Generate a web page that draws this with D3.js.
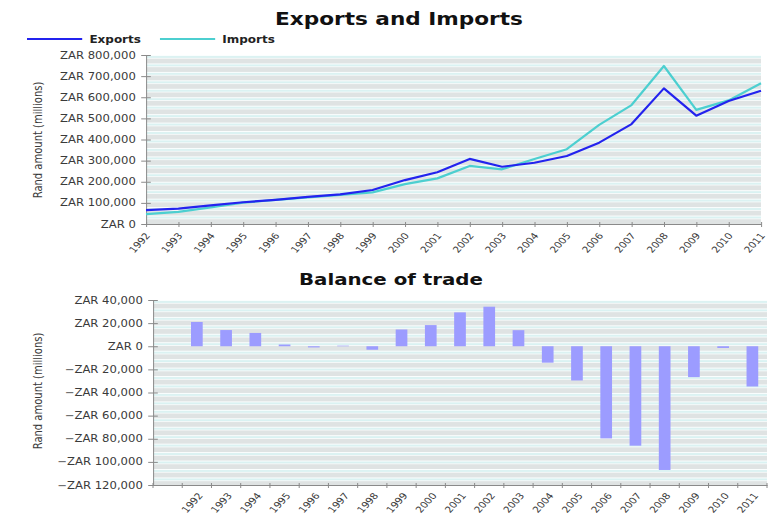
<!DOCTYPE html>
<html>
<head>
<meta charset="utf-8">
<script src="https://cdn.jsdelivr.net/npm/d3@7"></script>
<style>
    body { margin: 0; background: #fff; }
    text { font-family: "DejaVu Sans", Verdana, sans-serif; fill: #3a3a3a; }
    .title { font-weight: bold; fill: #111; }
    .axis path, .axis line { stroke: #8a8a8a; vector-effect: non-scaling-stroke; }
    .axis text { font-size: 9.7px; }
    .years text { font-size: 8.8px; }
    .legend text { font-weight: bold; font-size: 10px; fill: #222; }
</style>
</head>
<body>
<svg id="chart"></svg>
<script>
// Data, in ZAR millions
const years = ["1992", "1993", "1994", "1995", "1996", "1997", "1998", "1999", "2000", "2001",
    "2002", "2003", "2004", "2005", "2006", "2007", "2008", "2009", "2010", "2011"];
const exportsZar = [66000, 73000, 88000, 103000, 114000, 128000, 140000, 161000, 208000, 245000,
    308000, 271000, 290000, 322000, 385000, 473000, 642000, 513000, 582000, 631000];
const importsZar = [47000, 57000, 79000, 101000, 114000, 126000, 138000, 150000, 189000, 216000,
    275000, 259000, 308000, 354000, 469000, 563000, 748000, 540000, 585000, 666000];
const balanceZar = [21000, 14000, 11500, 1500, -1000, 500, -3000, 14500, 18300, 29300,
    34200, 13900, -14200, -29600, -79700, -86000, -107000, -26700, -1500, -34800];
// the bar chart has an empty slot before 1992
const balanceSlots = [""].concat(years);
const tradeTicks = [0, 100000, 200000, 300000, 400000, 500000, 600000, 700000, 800000];
const balanceTicks = [40000, 20000, 0, -20000, -40000, -60000, -80000, -100000, -120000];
const seriesNames = ["Exports", "Imports"];

let scales = {};
let config = {
    'svg': {},
    'top': {},
    'bottom': {},
    'colors': {}
};
let svg;
let root;

function translate(x, y) {
    return 'translate(' + x + ',' + y + ')';
}

// "ZAR 20,000" / "−ZAR 20,000"
function zarFormat(d) {
    let s = "ZAR " + d3.format(",")(Math.abs(d));
    return d < 0 ? "\u2212" + s : s;
}

// striped plot background (horizontal bands)
function addStripes(defs, id, y0) {
    let p = defs.append("pattern")
        .attr("id", id)
        .attr("patternUnits", "userSpaceOnUse")
        .attr("x", 0)
        .attr("y", y0)
        .attr("width", 10)
        .attr("height", 8.45);
    p.append("rect").attr("width", 10).attr("height", 8.45).attr("fill", "#fbfefe");
    p.append("rect").attr("y", 1.3).attr("width", 10).attr("height", 1.2).attr("fill", "#c9ecec");
    p.append("rect").attr("y", 3.6).attr("width", 10).attr("height", 4.85).attr("fill", "#dfe3e3");
}

let drawChart = function() {
    config.svg.width = 770;
    config.svg.height = 514;
    // the whole picture is stretched sideways
    config.stretch = 1.2;

    config.top = {left: 146 / 1.2, right: 761 / 1.2, top: 55, bottom: 224};
    config.bottom = {left: 153 / 1.2, right: 767 / 1.2, top: 300, bottom: 485};

    config.colors.Exports = "#2323ee";
    config.colors.Imports = "#4ccfd0";
    config.colors.bar = "#9c9cff";

    svg = d3.select("#chart")
        .attr("width", config.svg.width)
        .attr("height", config.svg.height);
    let defs = svg.append("defs");
    addStripes(defs, "stripesTop", config.top.top);
    addStripes(defs, "stripesBottom", config.bottom.top);

    root = svg.append("g").attr("transform", "scale(" + config.stretch + ",1)");

    drawTop();
    drawBottom();
};

let drawTop = function() {
    let c = config.top;

    scales.years = d3.scalePoint()
        .domain(years)
        .range([c.left, c.right]);
    scales.trade = d3.scaleLinear()
        .domain([0, 800000])
        .range([c.bottom, c.top]);

    root.append("text")
        .attr("class", "title")
        .attr("x", 332.5)
        .attr("y", 25)
        .attr("text-anchor", "middle")
        .style("font-size", "18px")
        .text("Exports and Imports");

    // legend
    let legend = root.append("g").attr("class", "legend");
    let legendX = [22.5, 133.3];
    seriesNames.forEach(function(name, i) {
        legend.append("line")
            .attr("x1", legendX[i])
            .attr("x2", legendX[i] + 46)
            .attr("y1", 39)
            .attr("y2", 39)
            .attr("stroke", config.colors[name])
            .attr("stroke-width", 2.2);
        legend.append("text")
            .attr("x", legendX[i] + 52)
            .attr("y", 42.6)
            .text(name);
    });

    root.append("rect")
        .attr("x", c.left)
        .attr("y", c.top)
        .attr("width", c.right - c.left)
        .attr("height", c.bottom - c.top)
        .attr("fill", "url(#stripesTop)");

    let yAxis = d3.axisLeft(scales.trade)
        .tickValues(tradeTicks)
        .tickFormat(zarFormat)
        .tickSizeOuter(0)
        .tickSizeInner(4)
        .tickPadding(4.5);
    let yg = root.append("g")
        .attr("class", "axis")
        .attr("transform", translate(c.left, 0))
        .call(yAxis);
    yg.selectAll(".tick line").attr("x1", 4);

    let xAxis = d3.axisBottom(scales.years)
        .tickSizeOuter(0)
        .tickSizeInner(3);
    let xg = root.append("g")
        .attr("class", "axis years")
        .attr("transform", translate(0, c.bottom))
        .call(xAxis);
    xg.selectAll(".tick line").attr("y1", -2);
    xg.selectAll(".tick text")
        .attr("x", 0)
        .attr("y", 0)
        .attr("dy", "0.35em")
        .attr("text-anchor", "end")
        .attr("transform", "translate(1,10) rotate(-52)");

    let series = [
        {name: "Imports", values: importsZar},
        {name: "Exports", values: exportsZar}
    ];
    let line = d3.line()
        .x((d, i) => scales.years(years[i]))
        .y(d => scales.trade(d));
    root.append("g")
        .selectAll("path")
        .data(series)
        .enter()
        .append("path")
        .attr("d", d => line(d.values))
        .attr("fill", "none")
        .attr("stroke", d => config.colors[d.name])
        .attr("stroke-width", 2.2)
        .attr("stroke-linejoin", "round")
        .style("vector-effect", "non-scaling-stroke");

    root.append("text")
        .attr("transform", translate(35, 140) + " rotate(-90)")
        .attr("text-anchor", "middle")
        .style("font-size", "10px")
        .text("Rand amount (millions)");
};

let drawBottom = function() {
    let c = config.bottom;

    scales.slot = d3.scaleBand()
        .domain(balanceSlots)
        .range([c.left, c.right]);
    scales.balance = d3.scaleLinear()
        .domain([-120000, 40000])
        .range([c.bottom, c.top]);

    root.append("text")
        .attr("class", "title")
        .attr("x", 325.8)
        .attr("y", 285)
        .attr("text-anchor", "middle")
        .style("font-size", "16.5px")
        .text("Balance of trade");

    root.append("rect")
        .attr("x", c.left)
        .attr("y", c.top)
        .attr("width", c.right - c.left)
        .attr("height", c.bottom - c.top)
        .attr("fill", "url(#stripesBottom)");

    let yAxis = d3.axisLeft(scales.balance)
        .tickValues(balanceTicks)
        .tickFormat(zarFormat)
        .tickSizeOuter(0)
        .tickSizeInner(4)
        .tickPadding(4.5);
    let yg = root.append("g")
        .attr("class", "axis")
        .attr("transform", translate(c.left, 0))
        .call(yAxis);
    yg.selectAll(".tick line").attr("x1", 4);

    // labels sit under the bands, ticks sit between them
    let xAxis = d3.axisBottom(scales.slot)
        .tickSize(0)
        .tickSizeOuter(0);
    let xg = root.append("g")
        .attr("class", "axis years")
        .attr("transform", translate(0, c.bottom))
        .call(xAxis);
    xg.selectAll(".tick text")
        .attr("x", 0)
        .attr("y", 0)
        .attr("dy", "0.35em")
        .attr("text-anchor", "end")
        .attr("transform", "translate(3,9) rotate(-52)");
    let bounds = balanceSlots.map(s => scales.slot(s)).concat([c.right]);
    xg.selectAll(".bound")
        .data(bounds)
        .enter()
        .append("line")
        .attr("class", "bound")
        .attr("x1", d => d)
        .attr("x2", d => d)
        .attr("y1", -2)
        .attr("y2", 3);

    let bw = scales.slot.bandwidth();
    root.append("g")
        .selectAll("rect")
        .data(balanceZar)
        .enter()
        .append("rect")
        .attr("x", (d, i) => scales.slot(years[i]) + bw * 0.3)
        .attr("width", bw * 0.4)
        .attr("y", d => scales.balance(Math.max(0, d)))
        .attr("height", d => Math.abs(scales.balance(d) - scales.balance(0)))
        .attr("fill", config.colors.bar);

    root.append("text")
        .attr("transform", translate(35, 391) + " rotate(-90)")
        .attr("text-anchor", "middle")
        .style("font-size", "10px")
        .text("Rand amount (millions)");
};

drawChart();
</script>
</body>
</html>
